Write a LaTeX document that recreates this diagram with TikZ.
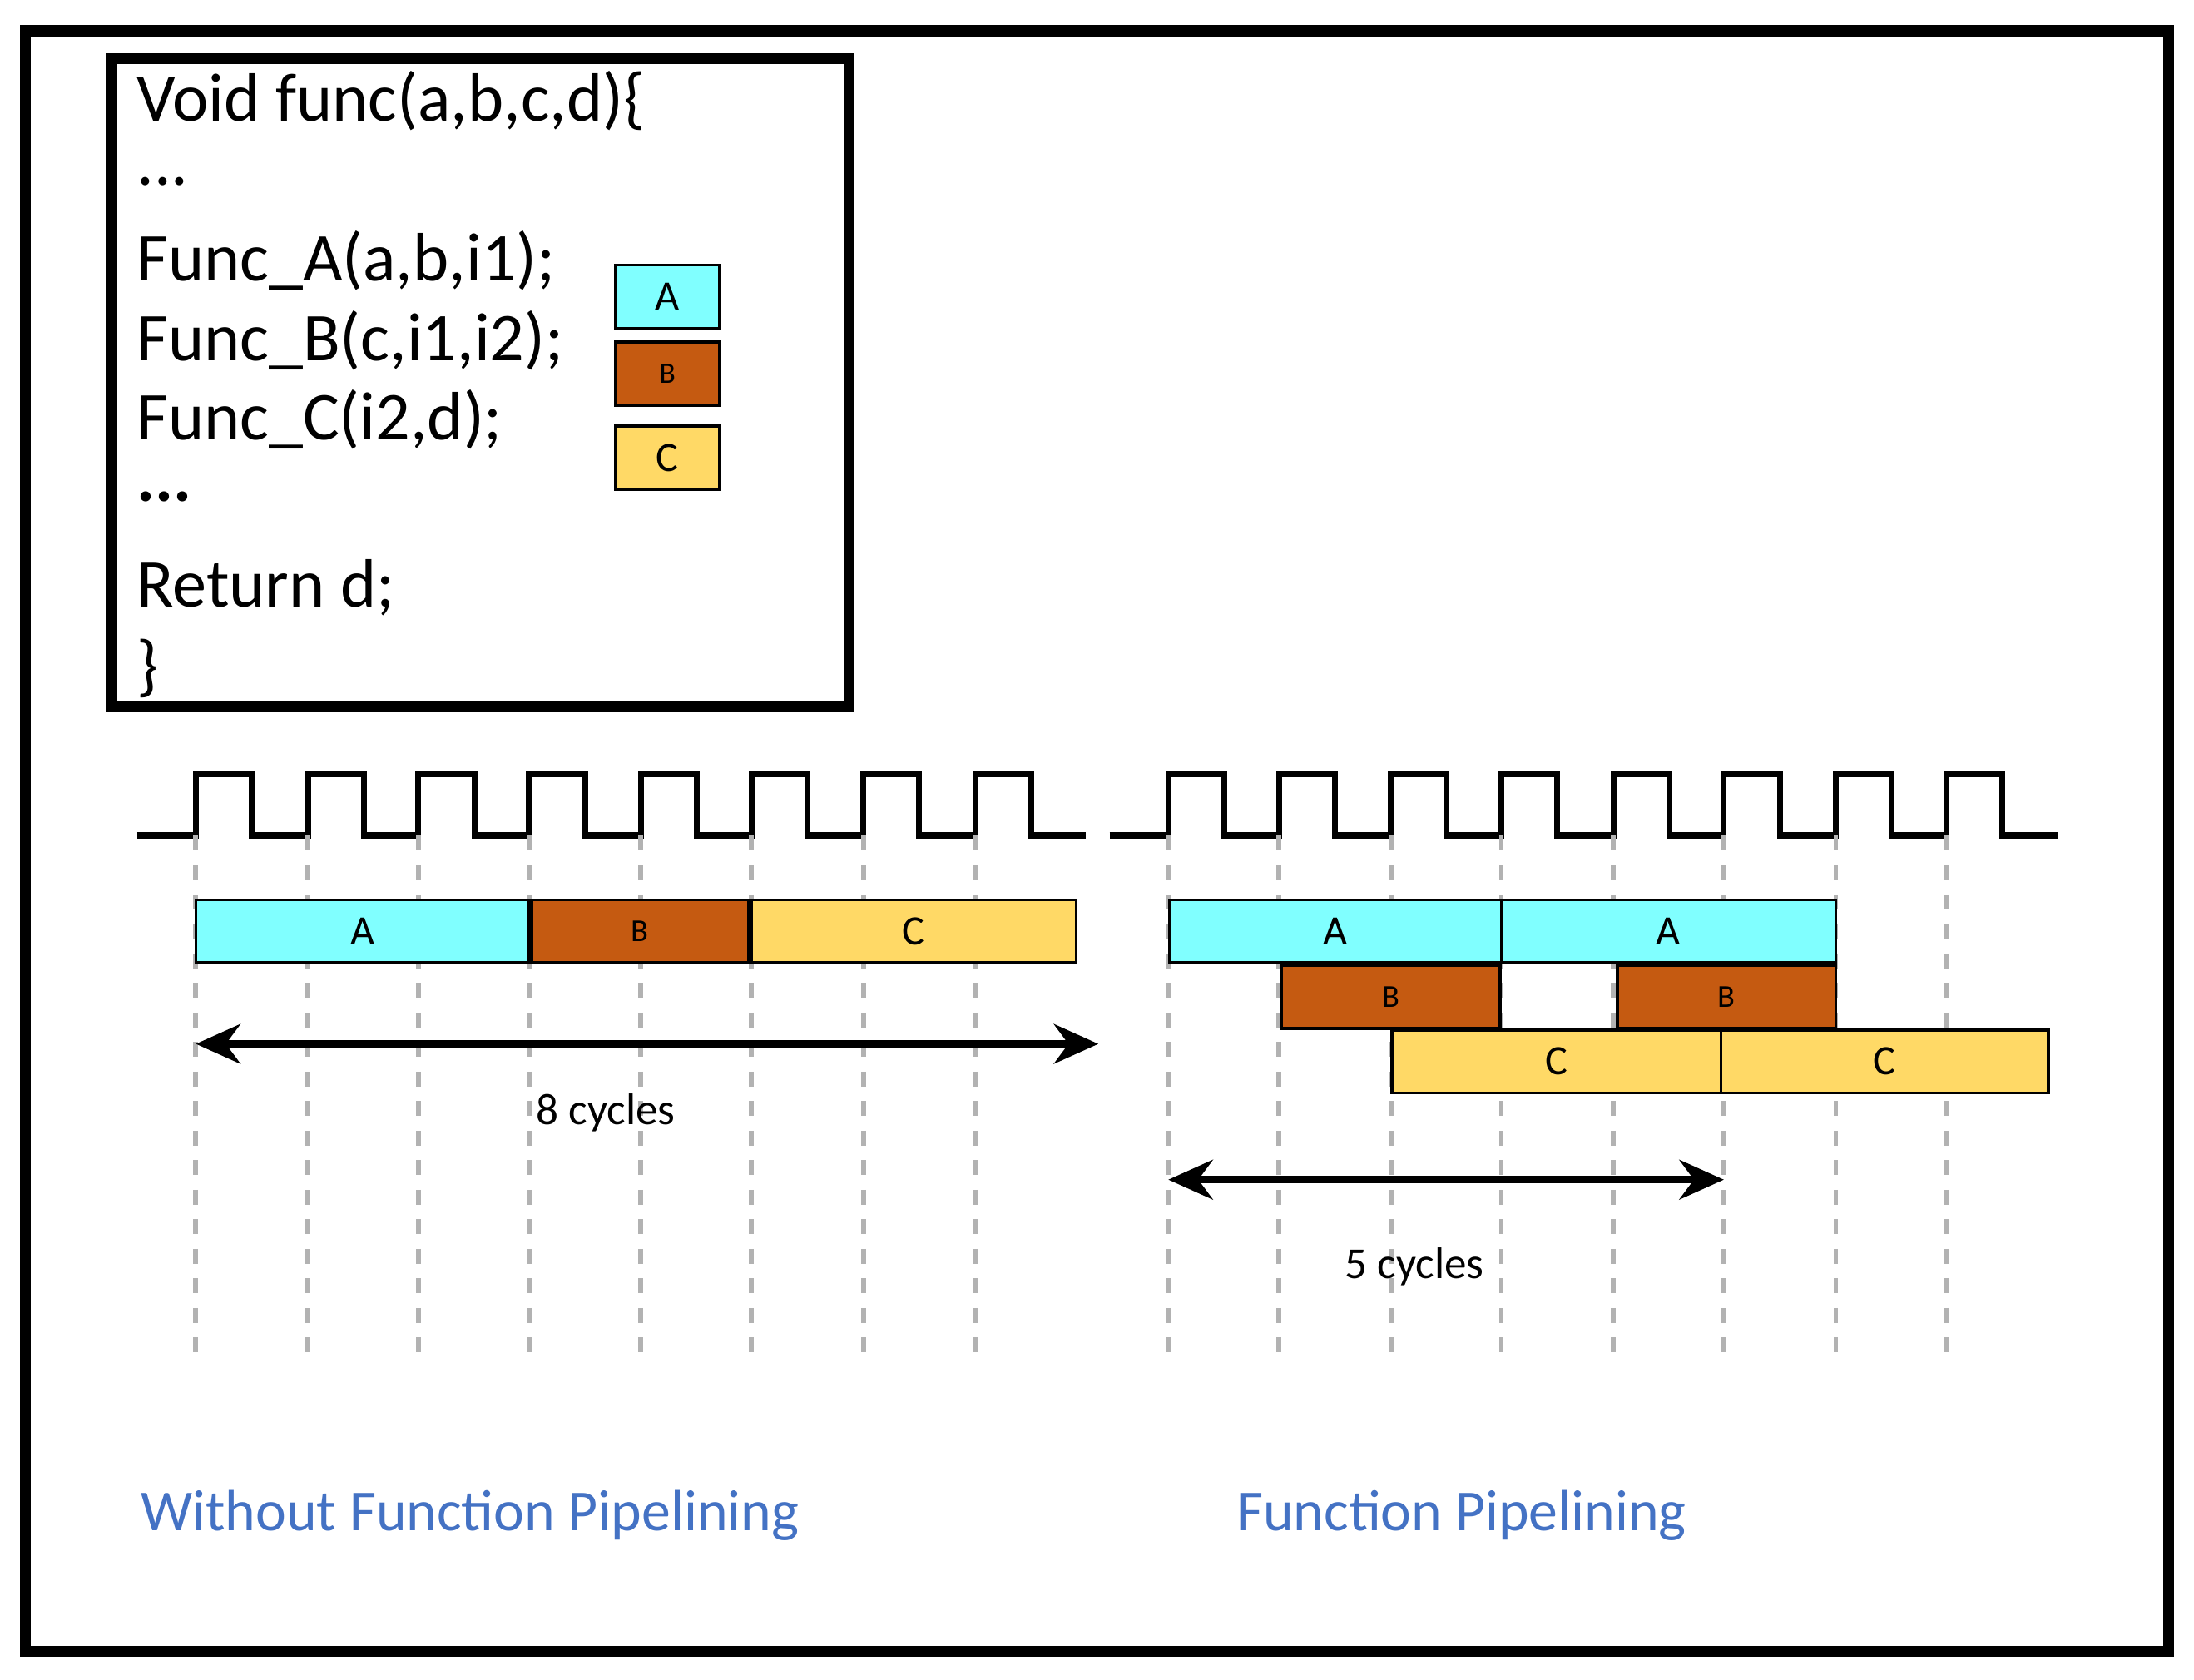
\documentclass[tikz,border=0pt]{standalone}
\usepackage{fontspec}
\setmainfont{Carlito}
\usetikzlibrary{arrows.meta}
\definecolor{ca}{HTML}{80FFFF}
\definecolor{cb}{HTML}{C55A11}
\definecolor{cc}{HTML}{FFD966}
\definecolor{lbl}{HTML}{4472C4}
\begin{document}
\begin{tikzpicture}[x=0.01cm,y=-0.01cm,
  code/.style={anchor=west,font=\fontsize{13.9}{14}\selectfont,inner sep=0},
  bar/.style={draw=black,line width=0.6pt,minimum height=0.45cm,inner sep=0,font=\fontsize{8.5}{9}\selectfont},
  clk/.style={line width=1.2pt},
  grid/.style={gray!60,dashed,line width=1pt},
  arr/.style={line width=1.5pt,{Stealth[length=9pt,width=8pt]}-{Stealth[length=9pt,width=8pt]}},
  lab/.style={font=\fontsize{9}{9}\selectfont},
  big/.style={font=\fontsize{11.8}{12}\selectfont,text=lbl,anchor=west,inner sep=0}]
\useasboundingbox (0,0) rectangle (1568,1200);
\draw[line width=2.2pt] (18,22) rectangle (1550,1180);
\draw[line width=2.2pt] (80,42) rectangle (607,505);
\node[code] (l1) at (97,72) {Void func(a,b,c,d)\{};
\node[code] (l2) at (97,130) {...};
\node[code] (l3) at (97,186) {Func\_A(a,b,i1);};
\node[code] (l4) at (97,243) {Func\_B(c,i1,i2);};
\node[code] (l5) at (97,300) {Func\_C(i2,d);};
\node[code] (l6) at (97,355) {\textbf{...}};
\node[code] (l7) at (97,420) {Return d;};
\node[code] (l8) at (97,478) {\}};
\node[bar,fill=ca,minimum width=0.74cm] (la) at (477,212) {A};
\node[bar,fill=cb,minimum width=0.74cm,font=\fontsize{6}{6}\selectfont] (lb) at (477,267) {B};
\node[bar,fill=cc,minimum width=0.74cm] (lc) at (477,327) {C};
% clocks
\draw[clk] (98,597) foreach \x in {140,220,299,378,458,537,617,697} {-- (\x,597) -- (\x,553) -- (\x+40,553) -- (\x+40,597)} -- (776,597);
\draw[clk] (793,597) foreach \x in {835,914,994,1073,1153,1232,1312,1391} {-- (\x,597) -- (\x,553) -- (\x+40,553) -- (\x+40,597)} -- (1471,597);
\foreach \x in {140,220,299,378,458,537,617,697,835,914,994,1073,1153,1232,1312,1391}
  \draw[grid] (\x,597) -- (\x,970);
% left bars
\node[bar,fill=ca,minimum width=2.38cm] (a1) at (259,665.5) {A};
\node[bar,fill=cb,minimum width=1.55cm,font=\fontsize{6.5}{7}\selectfont] (b1) at (457.5,665.5) {B};
\node[bar,fill=cc,minimum width=2.32cm] (c1) at (653,665.5) {C};
\coordinate (s1) at (140,746); \coordinate (e1) at (785,746);
\draw[arr] (s1) -- (e1);
\node[lab] (t1) at (433,795) {8 cycles};
% right bars
\node[bar,fill=ca,minimum width=2.37cm] (a2) at (954.5,665.5) {A};
\node[bar,fill=ca,minimum width=2.39cm] (a3) at (1192.5,665.5) {A};
\node[bar,fill=cb,minimum width=1.56cm,font=\fontsize{6.5}{7}\selectfont] (b2) at (994,712.5) {B};
\node[bar,fill=cb,minimum width=1.56cm,font=\fontsize{6.5}{7}\selectfont] (b3) at (1234,712.5) {B};
\node[bar,fill=cc,minimum width=2.35cm] (c2) at (1112.5,758.5) {C};
\node[bar,fill=cc,minimum width=2.34cm] (c3) at (1347,758.5) {C};
\coordinate (s2) at (835,843); \coordinate (e2) at (1232,843);
\draw[arr] (s2) -- (e2);
\node[lab] (t2) at (1011,905) {5 cycles};
\node[big] (w1) at (100,1083) {Without Function Pipelining};
\node[big] (w2) at (883,1083) {Function Pipelining};
\end{tikzpicture}
\end{document}
